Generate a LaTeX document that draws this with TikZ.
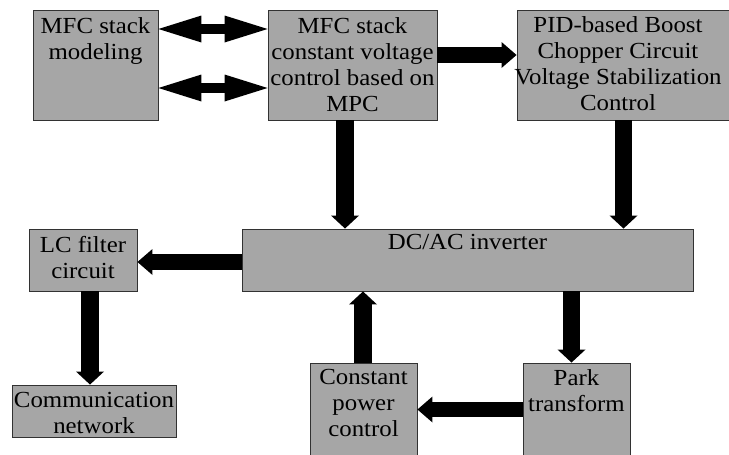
\documentclass[tikz,border=0pt]{standalone}
\usepackage{fontspec}
\setmainfont{Liberation Serif}[FakeStretch=1.08]
\usetikzlibrary{arrows.meta}
\definecolor{boxgray}{RGB}{166,166,166}
\definecolor{boxline}{RGB}{50,50,50}
\begin{document}
\begin{tikzpicture}[x=1pt,y=-1pt,
  box/.style={draw=boxline, line width=0.9pt, fill=boxgray, inner sep=0pt},
  txt/.style={align=center, inner sep=0pt, anchor=north, font=\fontsize{23}{26}\selectfont},
  dblarrow/.style={line width=10pt, {Triangle[width=27pt,length=43pt,line width=0pt]}-{Triangle[width=27pt,length=43pt,line width=0pt]}},
  harrow/.style={line width=15.5pt, -{Triangle[width=26pt,length=15pt,line width=0pt]}},
  varrow/.style={line width=17.5pt, -{Triangle[width=28pt,length=13pt,line width=0pt]}}]
\useasboundingbox (0,0) rectangle (729,455);
\clip (0,0) rectangle (729,455);
% boxes
\node[box, minimum width=125pt, minimum height=110pt] (b1) at (95.5,65) {};
\node[box, minimum width=169pt, minimum height=110pt] (b2) at (352.5,65) {};
\node[box, minimum width=230pt, minimum height=110pt] (b3) at (632,65) {};
\node[box, minimum width=108pt, minimum height=62pt] (lc) at (83,260) {};
\node[box, minimum width=451pt, minimum height=62pt] (dc) at (467.5,260) {};
\node[box, minimum width=164pt, minimum height=52pt] (comm) at (94,411) {};
\node[box, minimum width=107pt, minimum height=112pt] (cp) at (363.5,419) {};
\node[box, minimum width=107pt, minimum height=112pt] (park) at (576.5,419) {};
% texts
\node[txt] (t1) at (95.5,17.5) {MFC stack\\modeling};
\node[txt] (t2) at (352.5,17.5) {MFC stack\\constant voltage\\control based on\\MPC};
\node[txt] (t3) at (618,16.5) {PID-based Boost\\Chopper Circuit\\Voltage Stabilization\\Control};
\node[txt] (t4) at (83,236.5) {LC filter\\circuit};
\node[txt] (t5) at (467.5,234.5) {DC/AC inverter};
\node[txt] (t6) at (94,392.5) {Communication\\network};
\node[txt] (t7) at (363.5,369.5) {Constant\\power\\control};
\node[txt] (t8) at (576.5,369.5) {Park\\transform};
% connectors
\draw[dblarrow] ([yshift=36pt]b1.east) -- ([yshift=36pt]b2.west);
\draw[dblarrow] ([yshift=-23pt]b1.east) -- ([yshift=-23pt]b2.west);
\draw[harrow] ([yshift=10pt]b2.east) -- ([yshift=10pt]b3.west);
\coordinate (xa) at (345,0);
\coordinate (xb) at (623.5,0);
\coordinate (xc) at (90,0);
\coordinate (xd) at (571.5,0);
\coordinate (xe) at (363,0);
\coordinate (ya) at (0,409.5);
\draw[varrow] (xa |- b2.south) -- (xa |- dc.north);
\draw[varrow] (xb |- b3.south) -- (xb |- dc.north);
\draw[harrow] ([yshift=-2pt]dc.west) -- ([yshift=-2pt]lc.east);
\draw[varrow] (xc |- lc.south) -- (xc |- comm.north);
\draw[varrow] (xd |- dc.south) -- (xd |- park.north);
\draw[varrow] (xe |- cp.north) -- (xe |- dc.south);
\draw[harrow] (park.west |- ya) -- (cp.east |- ya);
\end{tikzpicture}
\end{document}
